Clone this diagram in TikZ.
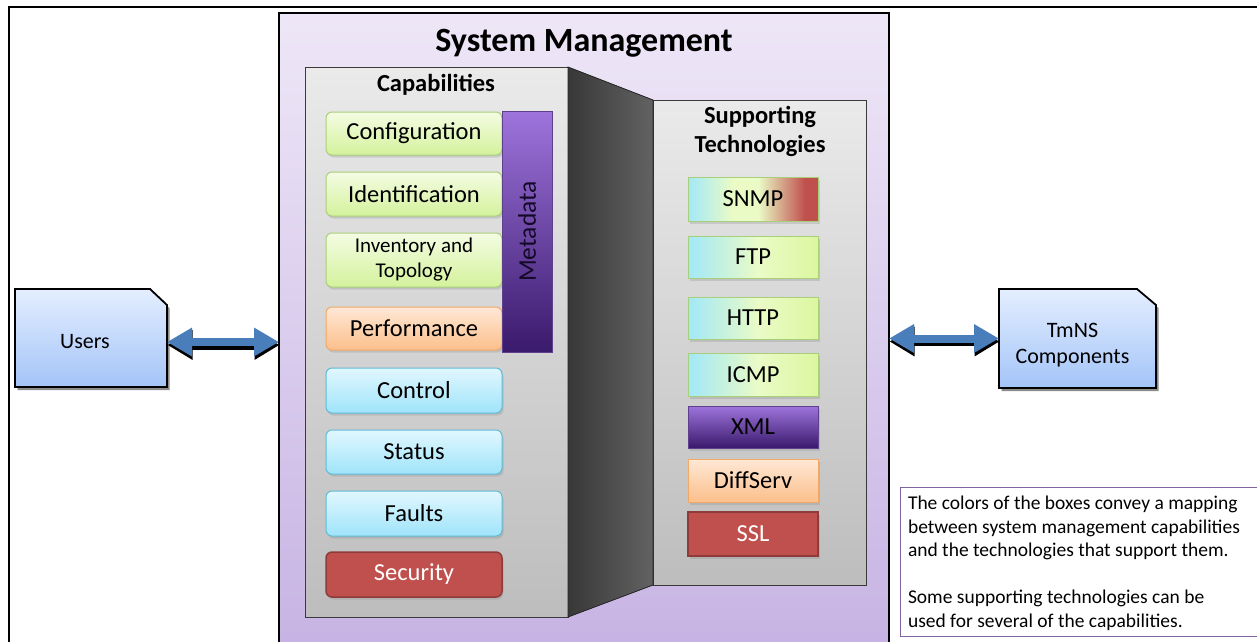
\documentclass[tikz,border=0pt]{standalone}
\usepackage{fontspec}
\setmainfont{Carlito}
\usetikzlibrary{arrows.meta,shadows}
\definecolor{smTop}{HTML}{EEE7F7}
\definecolor{smBot}{HTML}{C6B2E3}
\definecolor{pnTop}{HTML}{EAEAEA}
\definecolor{pnBot}{HTML}{BDBDBD}
\definecolor{pnDraw}{HTML}{3A3A3A}
\definecolor{cnL}{HTML}{383838}
\definecolor{cnR}{HTML}{626262}
\definecolor{gTop}{HTML}{F4FCE3}
\definecolor{gBot}{HTML}{D4F29C}
\definecolor{gDraw}{HTML}{A9CF7A}
\definecolor{oTop}{HTML}{FFE8D6}
\definecolor{oBot}{HTML}{FBBF8A}
\definecolor{oDraw}{HTML}{F2A968}
\definecolor{cTop}{HTML}{E1F7FF}
\definecolor{cBot}{HTML}{9FE4FA}
\definecolor{cDraw}{HTML}{5FBCD8}
\definecolor{rFill}{HTML}{C0504D}
\definecolor{rDraw}{HTML}{8E3B39}
\definecolor{pTop}{HTML}{9E74DC}
\definecolor{pBot}{HTML}{3A1A6C}
\definecolor{pDraw}{HTML}{5E3F8E}
\definecolor{pText}{HTML}{140A28}
\definecolor{uTop}{HTML}{E4EEFF}
\definecolor{uBot}{HTML}{A3C4F8}
\definecolor{arBlue}{HTML}{4A7EBB}
\definecolor{tCyan}{HTML}{A2E8F8}
\definecolor{tPale}{HTML}{EAFBC6}
\definecolor{tLime}{HTML}{DBF7A0}
\definecolor{tRed}{HTML}{C0504D}
\definecolor{noteDraw}{HTML}{8064A2}
\pgfdeclarehorizontalshading{snmpshade}{100bp}{color(0bp)=(tCyan); color(25bp)=(tCyan); color(42bp)=(tPale); color(52bp)=(tPale); color(70bp)=(tRed); color(100bp)=(tRed)}
\pgfdeclarehorizontalshading{techshade}{100bp}{color(0bp)=(tCyan); color(25bp)=(tCyan); color(52bp)=(tPale); color(75bp)=(tLime); color(100bp)=(tLime)}
\newcommand\capfont{\fontsize{24.5}{28}\selectfont}
\newcommand\invfont{\fontsize{21}{25}\selectfont}
\newcommand\notefont{\fontsize{19.5}{23.5}\selectfont}
\tikzset{
  every node/.style={inner sep=0pt, outer sep=0pt},
  smbox/.style={draw=black, line width=2pt, top color=smTop, bottom color=smBot, minimum width=610pt, minimum height=650pt, anchor=north west},
  panel/.style={draw=pnDraw, line width=1pt, top color=pnTop, bottom color=pnBot, anchor=north west},
  boxshadow/.style={drop shadow={shadow xshift=1.5pt, shadow yshift=-2.5pt, opacity=0.25}},
  cbox/.style={rounded corners=6pt, line width=1pt, minimum width=176pt, anchor=north west, align=center, font=\capfont, boxshadow},
  capgreen/.style={cbox, top color=gTop, bottom color=gBot, draw=gDraw},
  caporange/.style={cbox, top color=oTop, bottom color=oBot, draw=oDraw},
  capcyan/.style={cbox, top color=cTop, bottom color=cBot, draw=cDraw},
  capred/.style={cbox, fill=rFill, draw=rDraw, line width=1.5pt, text=white},
  tbox/.style={line width=1pt, minimum width=130pt, anchor=north west, font=\capfont, boxshadow},
  techgrad/.style={tbox, shading=techshade, draw=gDraw},
  techsnmp/.style={tbox, shading=snmpshade, draw=gDraw},
  techpurple/.style={tbox, top color=pTop, bottom color=pBot, draw=pDraw, text=black},
  techorange/.style={tbox, top color=oTop, bottom color=oBot, draw=oDraw},
  techred/.style={tbox, fill=rFill, draw=rDraw, line width=1.5pt, text=white},
  endbox/.style={anchor=north west},
  endshape/.style={draw=black, line width=1.8pt, top color=uTop, bottom color=uBot, drop shadow={shadow xshift=2.5pt, shadow yshift=-3pt, opacity=0.9}},
  arshadow/.style={draw=black, line width=9pt, {Triangle[width=28pt,length=25pt]}-{Triangle[width=28pt,length=25pt]}, transform canvas={xshift=0.5pt, yshift=-3pt}},
  armain/.style={draw=arBlue, line width=8pt, {Triangle[width=27pt,length=25pt]}-{Triangle[width=27pt,length=25pt]}},
  titlefont/.style={font=\bfseries\fontsize{34}{40}\selectfont},
  subtitle/.style={font=\bfseries\fontsize{24.5}{29}\selectfont, align=center},
}
\begin{document}
\begin{tikzpicture}[x=1pt, y=-1pt]
\useasboundingbox (0,0) rectangle (1257,641);
\clip (0,0) rectangle (1257,641);
\fill[white] (0,0) rectangle (1257,641);
% outer frame
\draw[line width=2pt, black] (1262,7) -- (9,7) -- (9,650);
% system management box
\node[smbox] (sm) at (279,13) {};
\node[titlefont] (smtitle) at (584,43) {System Management};
% panels
\node[panel, minimum width=263pt, minimum height=550pt] (cap) at (305,67) {};
\node[panel, minimum width=213pt, minimum height=485pt] (tech) at (653,100) {};
\fill[left color=cnL, right color=cnR, draw=black!85, line width=0.8pt] (cap.north east) -- (tech.north west) -- (tech.south west) -- (cap.south east) -- cycle;
\node[subtitle] (captitle) at (436,85) {Capabilities};
\node[subtitle] (techtitle) at (760,131) {Supporting\\Technologies};
% capability boxes
\node[capgreen, minimum height=43pt] (conf) at (326,112) {Configuration};
\node[capgreen, minimum height=44pt] (ident) at (326,172) {Identification};
\node[capgreen, minimum height=54pt, font=\invfont] (inv) at (326,233) {Inventory and\\Topology};
\node[caporange, minimum height=43pt] (perf) at (326,307) {Performance};
\node[capcyan, minimum height=45pt] (ctrl) at (326,368) {Control};
\node[capcyan, minimum height=44pt] (stat) at (326,430) {Status};
\node[capcyan, minimum height=45pt] (faults) at (326,491) {Faults};
\node[capred, minimum height=45pt] (sec) at (326,552) {Security};
% metadata bar
\node[anchor=north west, minimum width=50pt, minimum height=241pt, top color=pTop, bottom color=pBot, draw=pDraw, line width=0.8pt] (meta) at (502,111) {};
\node[rotate=90, font=\fontsize{25.5}{30}\selectfont, text=pText] (metalabel) at (meta.center) {Metadata};
% technology boxes
\node[techsnmp, minimum height=44pt] (snmp) at (688,177) {SNMP};
\node[techgrad, minimum height=42pt] (ftp) at (688,236) {FTP};
\node[techgrad, minimum height=42pt] (http) at (688,297) {HTTP};
\node[techgrad, minimum height=43pt] (icmp) at (688,353) {ICMP};
\node[techpurple, minimum height=42pt] (xml) at (688,406) {XML};
\node[techorange, minimum height=43pt] (diff) at (688,459) {DiffServ};
\node[techred, minimum height=44pt] (ssl) at (688,512) {SSL};
% users
\node[endbox, minimum width=152pt, minimum height=98pt] (users) at (15,289) {};
\path[endshape] (users.south west) -- (users.north west) -- ([xshift=-17pt]users.north east) -- ([yshift=-16pt]users.north east) -- (users.south east) -- cycle;
\node[font=\fontsize{22}{26}\selectfont] (userslabel) at ([xshift=-6pt, yshift=-4pt]users.center) {Users};
% tmns
\node[endbox, minimum width=157pt, minimum height=99pt] (tmns) at (999,289) {};
\path[endshape] (tmns.south west) -- (tmns.north west) -- ([xshift=-19pt]tmns.north east) -- ([yshift=-16pt]tmns.north east) -- (tmns.south east) -- cycle;
\node[font=\fontsize{22}{26}\selectfont, align=center] (tmnslabel) at ([xshift=-5pt, yshift=-7pt]tmns.center) {TmNS\\Components};
% arrows
\draw[arshadow] ([yshift=-4pt]users.east) -- ([yshift=-4pt]users.east -| sm.west);
\draw[armain] ([yshift=-4pt]users.east) -- ([yshift=-4pt]users.east -| sm.west);
\draw[arshadow] (tmns.west -| sm.east) -- (tmns.west);
\draw[armain] (tmns.west -| sm.east) -- (tmns.west);
% note
\node[anchor=north west, draw=noteDraw, line width=0.8pt, fill=white, minimum width=380pt, minimum height=149pt] (note) at (900,487) {};
\node[anchor=north west, align=left, font=\notefont] (notetext) at (908,496) {The colors of the boxes convey a mapping\\between system management capabilities\\and the technologies that support them.\\[23.5pt]Some supporting technologies can be\\used for several of the capabilities.};
\end{tikzpicture}
\end{document}
